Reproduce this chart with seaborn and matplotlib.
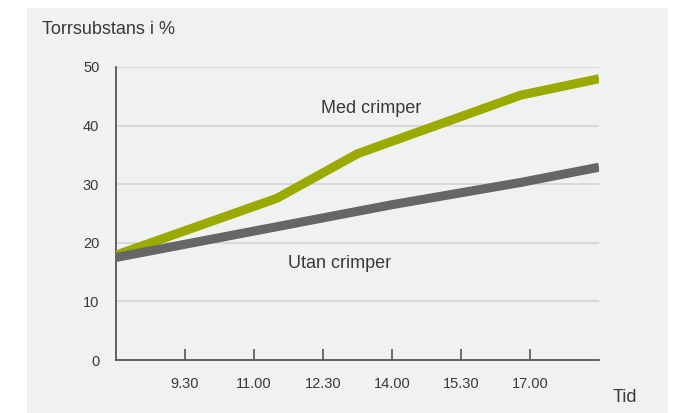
import matplotlib
matplotlib.use("Agg")
import matplotlib.pyplot as plt
import seaborn as sns
from matplotlib.patches import Rectangle

# data (x in hours, y in %)
med_x = [8.0, 11.5, 13.25, 16.8, 18.5]
med_y = [17.9, 27.6, 35.2, 45.2, 48.0]
utan_x = [8.0, 11.0, 14.0, 16.8, 18.5]
utan_y = [17.5, 22.0, 26.5, 30.3, 32.9]
tick_pos = [9.5, 11.0, 12.5, 14.0, 15.5, 17.0]
tick_labels = ["9.30", "11.00", "12.30", "14.00", "15.30", "17.00"]
y_ticks = [0, 10, 20, 30, 40, 50]

sns.set_style("white")
plt.rcParams['font.family'] = ['Liberation Sans', 'DejaVu Sans']

text_col = "#3a3a3a"
green = "#9aaa00"
grey = "#666666"

fig = plt.figure(figsize=(6.86, 4.13), dpi=100)
fig.patch.set_facecolor("white")
fig.patches.append(Rectangle((27 / 686, 0), 641 / 686, 405 / 413,
                             transform=fig.transFigure, facecolor="#f0f1f1",
                             edgecolor="none", zorder=-1))

ax = fig.add_axes([116 / 686, 53 / 413, 483 / 686, 293 / 413])
ax.set_facecolor("none")
ax.set_zorder(2)

for yv in y_ticks[1:]:
    ax.axhline(yv, color="#d2d4d4", lw=1.2, zorder=1)

sns.lineplot(x=med_x, y=med_y, ax=ax, color=green, lw=6.5,
             solid_capstyle="butt", zorder=3)
sns.lineplot(x=utan_x, y=utan_y, ax=ax, color=grey, lw=6.5,
             solid_capstyle="butt", zorder=4)

ax.set_xlim(8.0, 18.5)
ax.set_ylim(0, 50)
ax.set_xticks(tick_pos)
ax.set_xticklabels(tick_labels)
ax.set_yticks(y_ticks)
ax.tick_params(axis="x", bottom=True, direction="in", length=8, width=1.2,
               color="#555555", labelsize=10.5, labelcolor=text_col, pad=12)
ax.tick_params(axis="y", left=False, length=0, labelsize=10.5,
               labelcolor=text_col, pad=12)

for s in ["top", "right"]:
    ax.spines[s].set_visible(False)
for s in ["left", "bottom"]:
    ax.spines[s].set_color("#555555")
    ax.spines[s].set_linewidth(1.3)

ax.text(13.55, 43.0, "Med crimper", fontsize=13, color=text_col, ha="center", va="center")
ax.text(12.85, 16.5, "Utan crimper", fontsize=13, color=text_col, ha="center", va="center")

fig.text(42 / 686, 1 - 30 / 413, "Torrsubstans i %", fontsize=13, color=text_col,
         ha="left", va="center")
fig.text(625 / 686, 1 - 397 / 413, "Tid", fontsize=13, color=text_col,
         ha="center", va="center")

fig.savefig("out.png", dpi=100)
